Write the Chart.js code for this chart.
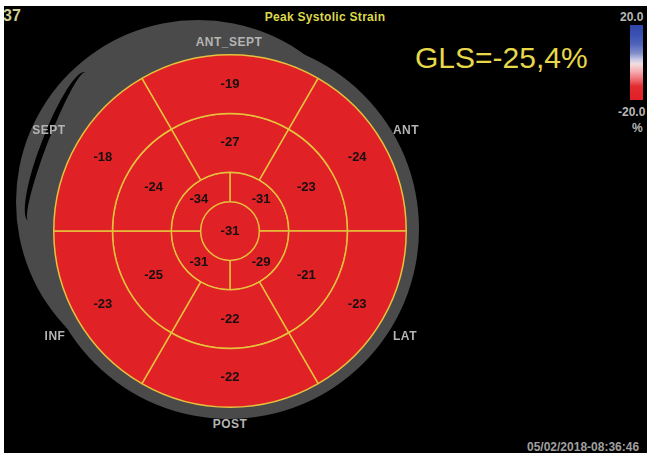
<!DOCTYPE html>
<html>
<head>
<meta charset="utf-8">
<script src="https://cdn.jsdelivr.net/npm/chart.js@4/dist/chart.umd.min.js"></script>
<style>
html, body { margin: 0; padding: 0; width: 647px; height: 453px; overflow: hidden; background: #000; }
body { position: relative; font-family: "Liberation Sans", Arial, sans-serif; }
.abs { position: absolute; }
.wb-top { left: 0; top: 0; width: 647px; height: 6px; background: #fff; }
.wb-left { left: 0; top: 0; width: 4px; height: 453px; background: #fff; }
/* grey wall ring: main disk + upper-left bulge, with the dark slit between them */
.diskB { left: 16px; top: 20px; width: 364px; height: 364px; border-radius: 50%; background: #4a4a4a; }
.diskA { left: 39px; top: 39px; width: 380px; height: 380px; border-radius: 50%; background: #4a4a4a; }
.slit { left: 40.5px; top: 66.7px; width: 32px; height: 158.6px; border-radius: 50%; box-sizing: border-box;
  border-left: 6px solid #000; transform: rotate(21deg); }
#wrap { left: 53px; top: 54px; width: 354px; height: 354px; }
.wall { color: #b4b4b4; font-weight: bold; font-size: 12px; letter-spacing: 0.5px; transform: translate(-50%, -50%); white-space: nowrap; }
.title { left: 325px; top: 17px; color: #dcd84c; font-weight: bold; font-size: 12px; letter-spacing: 0.3px; transform: translate(-50%, -50%); white-space: nowrap; }
.frame { left: 3px; top: 7px; color: #cfcf94; font-weight: bold; font-size: 16px; }
.gls { left: 415px; top: 58px; color: #e6d84a; font-size: 30px; transform: translateY(-50%); white-space: nowrap; }
.cbar { left: 630px; top: 25px; width: 13px; height: 75px;
  background: linear-gradient(to bottom, #2f46a8 0%, #3a52b2 14%, #5264bb 26%, #8390cc 38%, #c9c9e6 46%, #f3dde0 52%, #f4aeb2 62%, #ee7175 72%, #e32b30 82%, #e01f25 100%); }
.cl { color: #b8b8b8; font-weight: bold; font-size: 12px; white-space: nowrap; }
.date { left: 527px; top: 447px; color: #a0a0a0; font-weight: bold; font-size: 12px; transform: translateY(-50%); white-space: nowrap; }
</style>
</head>
<body>
<div class="abs diskB"></div>
<div class="abs diskA"></div>
<div class="abs slit"></div>
<div class="abs" id="wrap"><canvas id="bull"></canvas></div>

<div class="abs frame">37</div>
<div class="abs title">Peak Systolic Strain</div>
<div class="abs gls">GLS=-25,4%</div>
<div class="abs cbar"></div>
<div class="abs cl" style="left:620px;top:10px">20.0</div>
<div class="abs cl" style="left:618px;top:105px">-20.0</div>
<div class="abs cl" style="left:632px;top:121px">%</div>
<div class="abs date">05/02/2018-08:36:46</div>

<div class="abs wall" style="left:229px;top:42px">ANT_SEPT</div>
<div class="abs wall" style="left:49px;top:130px">SEPT</div>
<div class="abs wall" style="left:406px;top:130px">ANT</div>
<div class="abs wall" style="left:55px;top:336px">INF</div>
<div class="abs wall" style="left:405px;top:336px">LAT</div>
<div class="abs wall" style="left:230px;top:424px">POST</div>

<div class="abs wb-top"></div>
<div class="abs wb-left"></div>

<script>
"use strict";
// peak systolic strain (%) per segment, clockwise
const basal = [-19, -24, -23, -22, -23, -18];   // ANT_SEPT, ANT, LAT, POST, INF, SEPT
const mid = [-27, -23, -21, -22, -25, -24];
const apical = [-31, -29, -31, -34];            // starts upper right quadrant
const apex = [-31];

const SEG_BORDER = "#e6c23c";

// colour from the -20..20 scale; everything below -15 is plain red here
function strainColor(v) {
  if (v <= -15) return "#e02126";
  if (v < 0) return "#ee7a7e";
  return "#5264bb";
}

function ring(vals, rot, weight, bw) {
  return {
    data: vals.map(() => 1),
    strain: vals,
    backgroundColor: vals.map(strainColor),
    borderColor: SEG_BORDER,
    borderWidth: bw,
    rotation: rot,
    weight: weight,
    hoverOffset: 0,
    offset: 0
  };
}

const segLabels = {
  id: "segLabels",
  afterDatasetsDraw(chart) {
    const ctx = chart.ctx;
    ctx.save();
    ctx.font = 'bold 13px "Liberation Sans", Arial, sans-serif';
    ctx.fillStyle = "#161010";
    ctx.textAlign = "center";
    ctx.textBaseline = "middle";
    chart.data.datasets.forEach((ds, i) => {
      chart.getDatasetMeta(i).data.forEach((arc, j) => {
        const full = arc.circumference >= Math.PI * 2 - 1e-6;
        const p = full ? { x: arc.x, y: arc.y } : arc.tooltipPosition(true);
        ctx.fillText(String(ds.strain[j]), p.x, p.y);
      });
    });
    ctx.restore();
  }
};

new Chart(document.getElementById("bull"), {
  type: "doughnut",
  data: {
    datasets: [
      ring(basal, -30, 2, 1.5),
      ring(mid, -30, 2, 1.5),
      ring(apical, 0, 1, 1.5),
      ring(apex, 0, 1, 0)     // its edge is drawn by the apical ring
    ]
  },
  options: {
    responsive: true,
    maintainAspectRatio: false,
    animation: false,
    events: [],
    cutout: 0,
    layout: { padding: 0 },
    plugins: { legend: { display: false }, tooltip: { enabled: false } }
  },
  plugins: [segLabels]
});
</script>
</body>
</html>
